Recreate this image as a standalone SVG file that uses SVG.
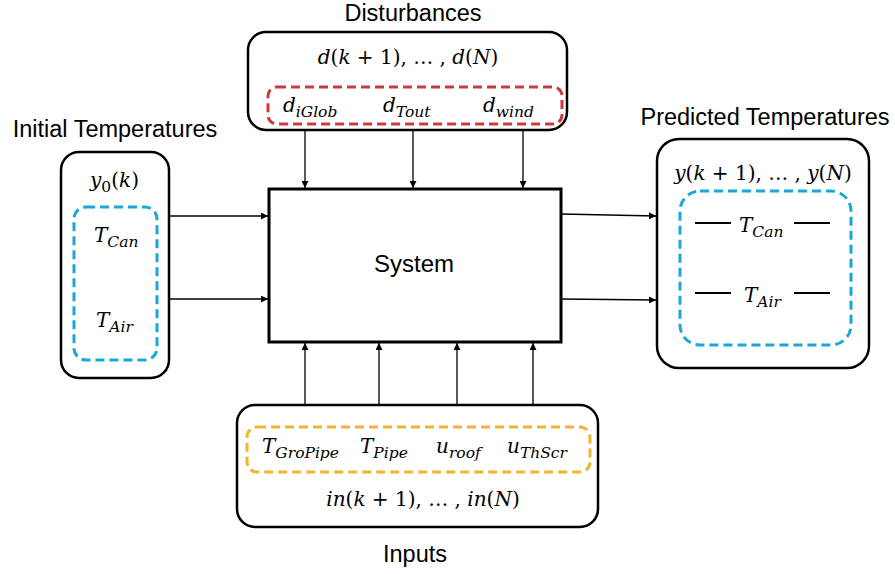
<svg xmlns="http://www.w3.org/2000/svg" width="895" height="574" viewBox="0 0 895 574">
<style>
.box{fill:#fff;stroke:#000;stroke-width:2.5}
.sys{fill:#fff;stroke:#000;stroke-width:3}
.dash{fill:none;stroke-width:3;stroke-dasharray:9 5}
.title{font-family:"Liberation Sans",Arial,sans-serif;font-size:23.5px;fill:#000}
.m{font-family:"DejaVu Serif","Liberation Serif",serif;font-style:italic;font-size:20px;fill:#000}
.s{font-size:15.5px}
.n{font-style:normal}
.con line{stroke:#000;stroke-width:1.3;marker-end:url(#ah)}
</style>
<defs>
<marker id="ah" viewBox="0 0 10 10" refX="10" refY="5" markerWidth="7" markerHeight="7" markerUnits="userSpaceOnUse" orient="auto">
<path d="M0,0 L10,5 L0,10 z" fill="#000"/>
</marker>
</defs>

<g id="connectors" class="con">
<line x1="305" y1="131" x2="305" y2="188"/>
<line x1="413" y1="131" x2="413" y2="188"/>
<line x1="523" y1="131" x2="523" y2="188"/>
<line x1="168" y1="216" x2="268" y2="216"/>
<line x1="168" y1="299" x2="268" y2="299"/>
<line x1="561" y1="214" x2="656" y2="216"/>
<line x1="561" y1="299" x2="656" y2="300"/>
<line x1="305" y1="405" x2="305" y2="343"/>
<line x1="379" y1="405" x2="379" y2="343"/>
<line x1="457" y1="405" x2="457" y2="343"/>
<line x1="533" y1="405" x2="533" y2="343"/>
</g>

<g id="disturbances">
<text class="title" x="413" y="21" text-anchor="middle">Disturbances</text>
<rect class="box" x="248" y="32" width="319" height="98" rx="18"/>
<text class="m" x="408" y="64" text-anchor="middle">d<tspan class="n">(</tspan>k<tspan class="n"> + 1), … , </tspan>d<tspan class="n">(</tspan>N<tspan class="n">)</tspan></text>
<rect class="dash" x="268" y="87" width="294" height="37" rx="9" stroke="#D0393A"/>
<text class="m" x="283" y="112">d<tspan class="s" dy="5">iGlob</tspan></text>
<text class="m" x="383" y="112">d<tspan class="s" dy="5">Tout</tspan></text>
<text class="m" x="483" y="112">d<tspan class="s" dy="5">wind</tspan></text>
</g>

<g id="initial">
<text class="title" x="115" y="137" text-anchor="middle">Initial Temperatures</text>
<rect class="box" x="61" y="152" width="108" height="226" rx="18"/>
<text class="m" x="90" y="187">y<tspan class="s n" dy="5">0</tspan><tspan class="n" dy="-5">(</tspan>k<tspan class="n">)</tspan></text>
<rect class="dash" x="74" y="207" width="83" height="153" rx="12" stroke="#1AA6D9"/>
<text class="m" x="94" y="242">T<tspan class="s" dy="5">Can</tspan></text>
<text class="m" x="96" y="327">T<tspan class="s" dy="5">Air</tspan></text>
</g>

<g id="system">
<rect class="sys" x="269" y="189" width="292" height="153"/>
<text class="title" x="414" y="272" text-anchor="middle" style="font-size:24px">System</text>
</g>

<g id="predicted">
<text class="title" x="765" y="125" text-anchor="middle">Predicted Temperatures</text>
<rect class="box" x="657" y="139" width="212" height="229" rx="22"/>
<text class="m" x="763" y="180" text-anchor="middle">y<tspan class="n">(</tspan>k<tspan class="n"> + 1), … , </tspan>y<tspan class="n">(</tspan>N<tspan class="n">)</tspan></text>
<rect class="dash" x="680" y="191" width="171" height="154" rx="20" stroke="#1AA6D9"/>
<line x1="695" y1="223" x2="731" y2="223" stroke="#000" stroke-width="2"/>
<line x1="794" y1="223" x2="830" y2="223" stroke="#000" stroke-width="2"/>
<text class="m" x="739" y="232">T<tspan class="s" dy="5">Can</tspan></text>
<line x1="695" y1="293" x2="731" y2="293" stroke="#000" stroke-width="2"/>
<line x1="794" y1="293" x2="830" y2="293" stroke="#000" stroke-width="2"/>
<text class="m" x="744" y="302">T<tspan class="s" dy="5">Air</tspan></text>
</g>

<g id="inputs">
<rect class="box" x="237" y="405" width="361" height="122" rx="18"/>
<rect class="dash" x="247" y="427" width="343" height="45" rx="10" stroke="#F0B430"/>
<text class="m" x="262" y="453">T<tspan class="s" dy="5">GroPipe</tspan></text>
<text class="m" x="360" y="453">T<tspan class="s" dy="5">Pipe</tspan></text>
<text class="m" x="436" y="453">u<tspan class="s" dy="5">roof</tspan></text>
<text class="m" x="507" y="453">u<tspan class="s" dy="5">ThScr</tspan></text>
<text class="m" x="423" y="506" text-anchor="middle">in<tspan class="n">(</tspan>k<tspan class="n"> + 1), … , </tspan>in<tspan class="n">(</tspan>N<tspan class="n">)</tspan></text>
<text class="title" x="415" y="562" text-anchor="middle">Inputs</text>
</g>
</svg>
